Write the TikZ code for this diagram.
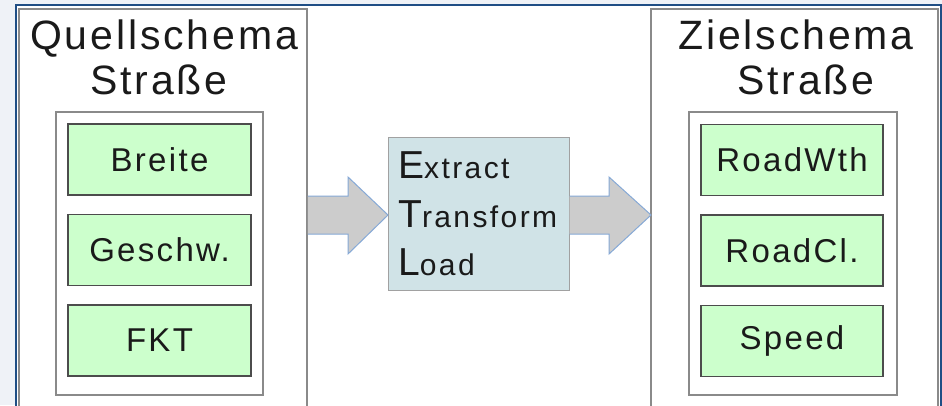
\documentclass[tikz,border=0pt]{standalone}
\usepackage{fontspec}
\setmainfont{Liberation Sans}
\newfontfamily\spacedsans[LetterSpace=7]{Liberation Sans}
\newfontfamily\fieldsans[LetterSpace=7]{Liberation Sans}
\newfontfamily\etlsans[LetterSpace=8]{Liberation Sans}
\usetikzlibrary{positioning,calc}

\definecolor{pagebg}{HTML}{EFF2F7}
\definecolor{frameblue}{HTML}{1F4E85}
\definecolor{panelgray}{HTML}{8A8A8A}
\definecolor{fieldgreen}{HTML}{CCFFCC}
\definecolor{etlblue}{HTML}{D0E3E7}
\definecolor{arrowgray}{HTML}{CCCCCC}
\definecolor{arrowline}{HTML}{86A9D6}
\definecolor{textdark}{HTML}{1A1A1A}

\newcommand\schematitle{\spacedsans\fontsize{41}{45}\selectfont}
\newcommand\fieldfont{\fieldsans\fontsize{33}{36}\selectfont}
\newcommand\etlfont{\etlsans\fontsize{30}{34}\selectfont}
\newcommand\etlinitial[1]{{\fontsize{39}{42}\selectfont #1}}

\tikzset{
  panel/.style={draw=panelgray, line width=1.5pt, fill=white, inner sep=0pt, outer sep=0pt, anchor=north west},
  field/.style={draw=black!70, line width=1.5pt, fill=fieldgreen, minimum width=183pt, minimum height=71pt,
                inner sep=0pt, outer sep=0pt, font=\fieldfont, text=textdark},
  title/.style={font=\schematitle, text=textdark, inner sep=0pt, anchor=base},
  etlbox/.style={draw=panelgray!80, line width=1pt, fill=etlblue, minimum width=181pt, minimum height=153pt,
                 inner sep=0pt, outer sep=0pt, anchor=north west},
  etlline/.style={font=\etlfont, text=textdark, inner sep=0pt, anchor=base west},
  fatarrow/.style={fill=arrowgray, draw=arrowline, line width=1pt, line join=miter},
}

\begin{document}
\begin{tikzpicture}[x=1pt, y=-1pt]
\useasboundingbox (0,0) rectangle (942,405);
\clip (0,0) rectangle (942,405);

% page and frame
\fill[pagebg] (0,0) rectangle (942,405);
\draw[frameblue, line width=2pt, fill=white] (16,420) -- (16,5) -- (941,5) -- (941,420);

% source schema
\node[panel, minimum width=288pt, minimum height=430pt] (quelle) at (19,9) {};
\node[title] (quelltitel) at (164,49) {Quellschema};
\node[title] (quellstr) at ($(quelltitel.base)+(-5,45)$) {Straße};
\node[panel, minimum width=207pt, minimum height=283pt] (quellfelder) at (56,112) {};
\node[field] (breite) at (159.5,159.5) {Breite};
\node[field, below=19.5pt of breite] (geschw) {Geschw.};
\node[field, below=19.5pt of geschw] (fkt) {FKT};

% etl step
\node[etlbox] (etl) at (388,137) {};
\node[etlline] (extract) at ($(etl.north west)+(10,41)$) {\etlinitial{E}xtract};
\node[etlline] (transform) at ($(extract.base west)+(0,49)$) {\etlinitial{T}ransform};
\node[etlline] (load) at ($(transform.base west)+(0,48)$) {\etlinitial{L}oad};

% target schema
\node[panel, minimum width=287pt, minimum height=430pt] (ziel) at (651,9) {};
\node[title] (zieltitel) at (796,49) {Zielschema};
\node[title] (zielstr) at ($(zieltitel.base)+(10,45)$) {Straße};
\node[panel, minimum width=208pt, minimum height=283pt] (zielfelder) at (689,112) {};
\node[field, minimum width=182pt] (roadwth) at (792,160) {RoadWth};
\node[field, minimum width=182pt, below=19.5pt of roadwth] (roadcl) {RoadCl.};
\node[field, minimum width=182pt, below=19.5pt of roadcl] (speed) {Speed};

% arrows
\draw[fatarrow] ([xshift=0.75pt]quelle.east |- 0,196) -- (348,196) -- (348,177) -- (etl.west |- 0,215)
  -- (348,254) -- (348,234) -- ([xshift=0.75pt]quelle.east |- 0,234);
\draw[fatarrow] ([xshift=0.5pt]etl.east |- 0,196) -- (609,196) -- (609,177) -- (ziel.west |- 0,215)
  -- (609,254) -- (609,234) -- ([xshift=0.5pt]etl.east |- 0,234);
\end{tikzpicture}
\end{document}
